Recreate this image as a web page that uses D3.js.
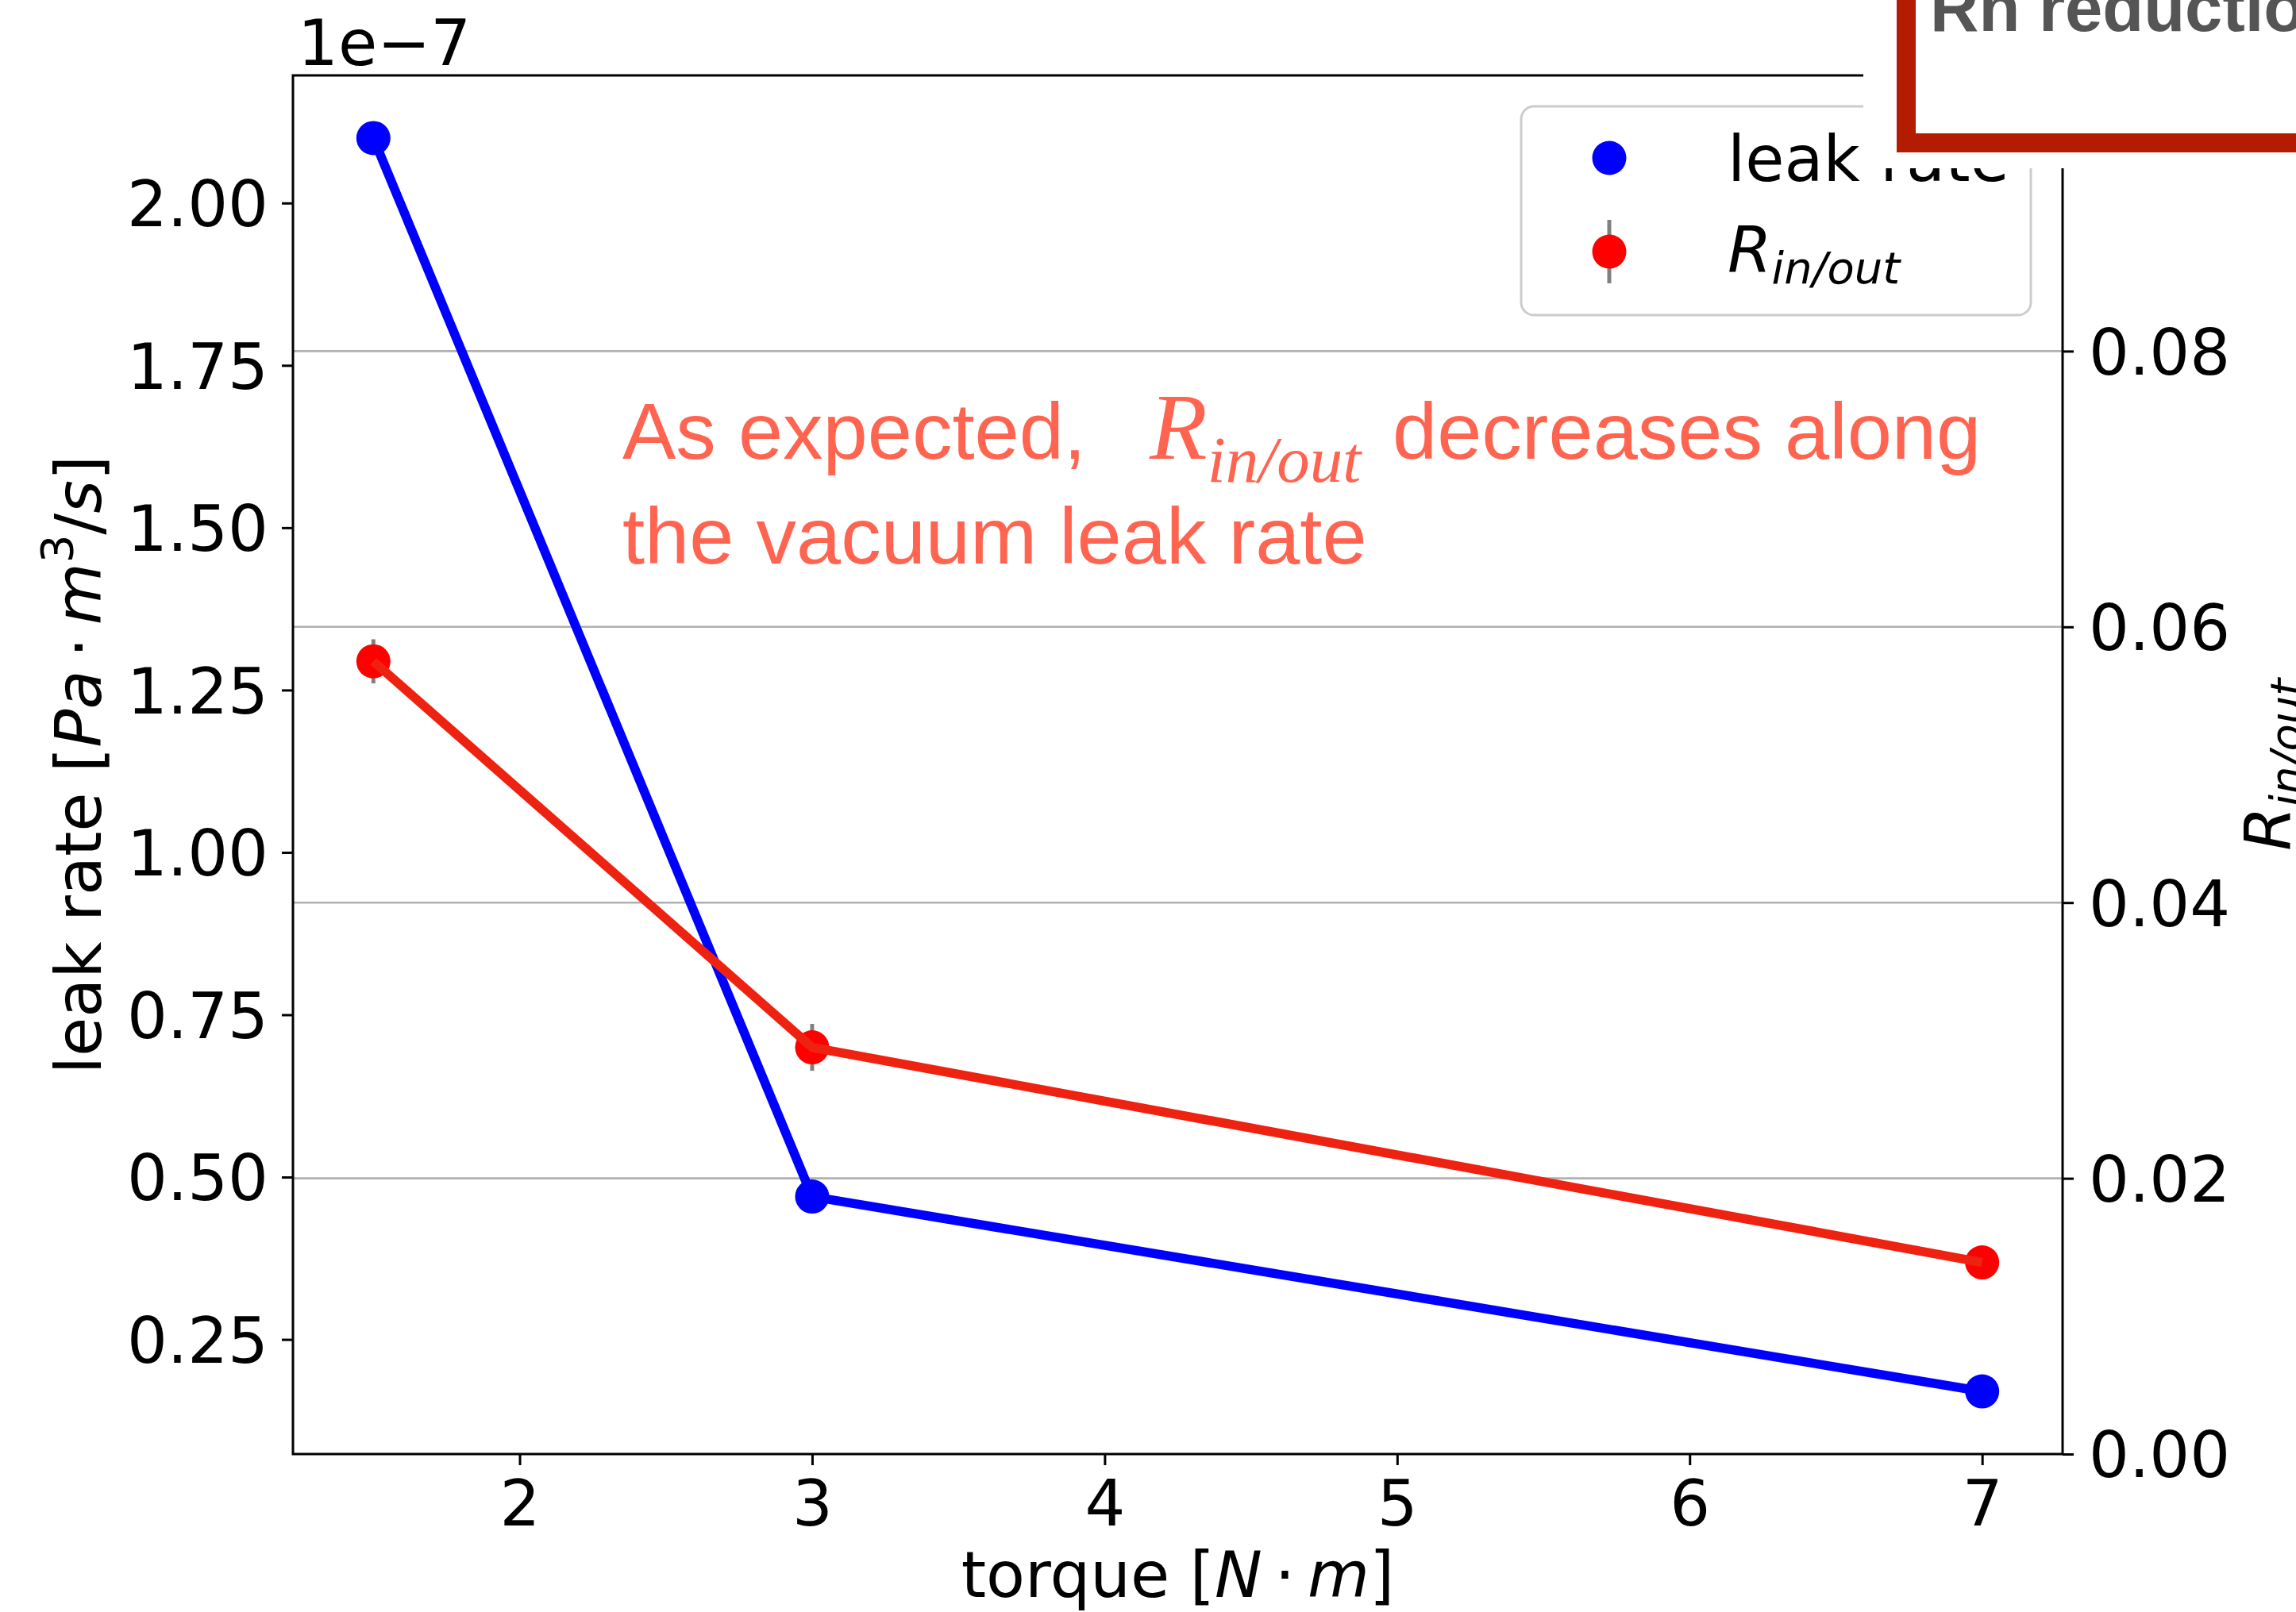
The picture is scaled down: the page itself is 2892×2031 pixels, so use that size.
<!DOCTYPE html>
<html>
<head>
<meta charset="utf-8">
<script src="https://cdn.jsdelivr.net/npm/d3@7"></script>
<style>
  body { margin: 0; background: #fff; }
  svg { display: block; }
</style>
</head>
<body>
<svg id="chart"></svg>
<script>
// data
var torque = [1.5, 3, 7];                 // N·m
var leakRate = [2.10, 0.47, 0.17];        // ×1e-7 Pa·m3/s
var rInOut = [0.0575, 0.0295, 0.0139];
var rErr = [0.0016, 0.0017, 0.0009];

var xTicks = [2, 3, 4, 5, 6, 7];
var leftTicks = [0.25, 0.50, 0.75, 1.00, 1.25, 1.50, 1.75, 2.00];
var rightTicks = [0.00, 0.02, 0.04, 0.06, 0.08, 0.10];

var W = 2892, H = 2031;
var plotL = 369, plotR = 2598, plotT = 95, plotB = 1832;
var FONT = "'DejaVu Sans', sans-serif";
var FS = 80;

var svg = d3.select('#chart').attr('width', W).attr('height', H);
svg.append('rect').attr('width', W).attr('height', H).attr('fill', '#fff');

// matplotlib-like 5% margins
function padded(arr) {
    var e = d3.extent(arr), m = (e[1] - e[0]) * 0.05;
    return [e[0] - m, e[1] + m];
}

var x = d3.scaleLinear().domain(padded(torque)).range([plotL, plotR]);
var yL = d3.scaleLinear().domain(padded(leakRate)).range([plotB, plotT]);
var yR = d3.scaleLinear().domain([0, 0.1]).range([plotB, plotT]);

// grid (from the twin axis)
svg.append('g').selectAll('line')
    .data(rightTicks.filter(function(d){ return d > 0 && d < 0.1; }))
    .enter().append('line')
    .attr('x1', plotL).attr('x2', plotR)
    .attr('y1', function(d){ return yR(d); })
    .attr('y2', function(d){ return yR(d); })
    .attr('stroke', '#b0b0b0').attr('stroke-width', 2.6);

// axes
function styleAxis(g) {
    g.select('.domain').remove();
    g.selectAll('.tick line').attr('stroke', '#000').attr('stroke-width', 3);
    g.selectAll('.tick text').attr('fill', '#000')
        .style('font-family', FONT).style('font-size', FS + 'px');
}

svg.append('g')
    .attr('transform', 'translate(0,' + plotB + ')')
    .call(d3.axisBottom(x).tickValues(xTicks).tickSize(14).tickPadding(19).tickFormat(d3.format('d')))
    .call(styleAxis);

svg.append('g')
    .attr('transform', 'translate(' + plotL + ',0)')
    .call(d3.axisLeft(yL).tickValues(leftTicks).tickSize(14).tickPadding(17).tickFormat(d3.format('.2f')))
    .call(styleAxis)
    .selectAll('.tick text').attr('dy', '0.36em');

svg.append('g')
    .attr('transform', 'translate(' + plotR + ',0)')
    .call(d3.axisRight(yR).tickValues(rightTicks).tickSize(14).tickPadding(19).tickFormat(d3.format('.2f')))
    .call(styleAxis)
    .selectAll('.tick text').attr('dy', '0.36em');

// leak rate series
var lineL = d3.line()
    .x(function(d, i){ return x(torque[i]); })
    .y(function(d){ return yL(d); });
svg.append('path').datum(leakRate)
    .attr('d', lineL)
    .attr('fill', 'none').attr('stroke', '#0000ff').attr('stroke-width', 11.5);
svg.append('g').selectAll('circle').data(leakRate).enter().append('circle')
    .attr('cx', function(d, i){ return x(torque[i]); })
    .attr('cy', function(d){ return yL(d); })
    .attr('r', 21.5).attr('fill', '#0000ff');

// R in/out series: error bars, markers, then line on top
svg.append('g').selectAll('line').data(rInOut).enter().append('line')
    .attr('x1', function(d, i){ return x(torque[i]); })
    .attr('x2', function(d, i){ return x(torque[i]); })
    .attr('y1', function(d, i){ return yR(d - rErr[i]); })
    .attr('y2', function(d, i){ return yR(d + rErr[i]); })
    .attr('stroke', '#808080').attr('stroke-width', 5);
svg.append('g').selectAll('circle').data(rInOut).enter().append('circle')
    .attr('cx', function(d, i){ return x(torque[i]); })
    .attr('cy', function(d){ return yR(d); })
    .attr('r', 21.5).attr('fill', '#ff0000');
var lineR = d3.line()
    .x(function(d, i){ return x(torque[i]); })
    .y(function(d){ return yR(d); });
svg.append('path').datum(rInOut)
    .attr('d', lineR)
    .attr('fill', 'none').attr('stroke', '#ee2211').attr('stroke-width', 11.5);

// frame
svg.append('rect')
    .attr('x', plotL).attr('y', plotT)
    .attr('width', plotR - plotL).attr('height', plotB - plotT)
    .attr('fill', 'none').attr('stroke', '#000').attr('stroke-width', 3);

// offset text
svg.append('text').attr('x', 375).attr('y', 82)
    .style('font-family', FONT).style('font-size', FS + 'px')
    .text('1e\u22127');

// x label
var xl = svg.append('text').attr('x', (plotL + plotR) / 2).attr('y', 2012)
    .attr('text-anchor', 'middle')
    .style('font-family', FONT).style('font-size', FS + 'px');
xl.append('tspan').text('torque [');
xl.append('tspan').style('font-style', 'italic').text('N');
xl.append('tspan').text('\u2009\u00b7\u2009');
xl.append('tspan').style('font-style', 'italic').text('m');
xl.append('tspan').text(']');

// left y label
var yl = svg.append('text')
    .attr('transform', 'translate(127,' + (plotT + plotB) / 2 + ') rotate(-90)')
    .attr('text-anchor', 'middle')
    .style('font-family', FONT).style('font-size', FS + 'px');
yl.append('tspan').text('leak rate [');
yl.append('tspan').style('font-style', 'italic').text('Pa');
yl.append('tspan').text('\u2009\u00b7\u2009');
yl.append('tspan').style('font-style', 'italic').text('m');
yl.append('tspan').attr('dy', -36).style('font-size', '56px').text('3');
yl.append('tspan').attr('dy', 36).text('/');
yl.append('tspan').style('font-style', 'italic').text('s');
yl.append('tspan').text(']');

// right y label
var yr = svg.append('text')
    .attr('transform', 'translate(2885,' + (plotT + plotB) / 2 + ') rotate(-90)')
    .attr('text-anchor', 'middle')
    .style('font-family', FONT).style('font-size', FS + 'px').style('font-style', 'italic');
yr.append('tspan').text('R');
yr.append('tspan').attr('dy', 14).style('font-size', '56px').text('in/out');

// annotation
var SANS = "'Liberation Sans', Arial, sans-serif";
var SERIF = "'Liberation Serif', 'Times New Roman', serif";
var ann = svg.append('g').attr('fill', '#ff6450');
var a1 = ann.append('text').attr('x', 784).attr('y', 578)
    .style('font-family', SANS).style('font-size', '101px');
a1.append('tspan').text('As expected,');
a1.append('tspan').attr('x', 1448).style('font-family', SERIF).style('font-style', 'italic')
    .style('font-size', '119px').text('R');
a1.append('tspan').attr('dy', 29).style('font-family', SERIF).style('font-style', 'italic')
    .style('font-size', '83px').text('in/out');
a1.append('tspan').attr('x', 1754).attr('dy', -29).text('decreases along');
ann.append('text').attr('x', 784).attr('y', 710)
    .style('font-family', SANS).style('font-size', '101px')
    .text('the vacuum leak rate');

// legend
var lg = svg.append('g');
lg.append('rect').attr('x', 1916).attr('y', 134).attr('width', 642).attr('height', 263)
    .attr('rx', 16).attr('fill', '#fff').attr('fill-opacity', 0.8)
    .attr('stroke', '#cccccc').attr('stroke-width', 3);
lg.append('circle').attr('cx', 2027).attr('cy', 199).attr('r', 21.5).attr('fill', '#0000ff');
lg.append('line').attr('x1', 2027).attr('x2', 2027).attr('y1', 277).attr('y2', 357)
    .attr('stroke', '#808080').attr('stroke-width', 5);
lg.append('circle').attr('cx', 2027).attr('cy', 317).attr('r', 21.5).attr('fill', '#ff0000');
lg.append('text').attr('x', 2176).attr('y', 228)
    .style('font-family', FONT).style('font-size', FS + 'px').text('leak rate');
var lr = lg.append('text').attr('x', 2176).attr('y', 343)
    .style('font-family', FONT).style('font-size', FS + 'px').style('font-style', 'italic');
lr.append('tspan').text('R');
lr.append('tspan').attr('dy', 14).style('font-size', '56px').text('in/out');

// pasted slide box covering the top right corner
svg.append('rect').attr('x', 2347).attr('y', 0).attr('width', W - 2347).attr('height', 212)
    .attr('fill', '#fff');
svg.append('rect').attr('x', 2401).attr('y', -40).attr('width', 600).attr('height', 220)
    .attr('fill', '#fff').attr('stroke', '#b31c00').attr('stroke-width', 24);
svg.append('text').attr('x', 2431).attr('y', 39)
    .style('font-family', SANS).style('font-weight', 'bold').style('font-size', '85px')
    .attr('fill', '#555').text('Rn reduction');
</script>
</body>
</html>
